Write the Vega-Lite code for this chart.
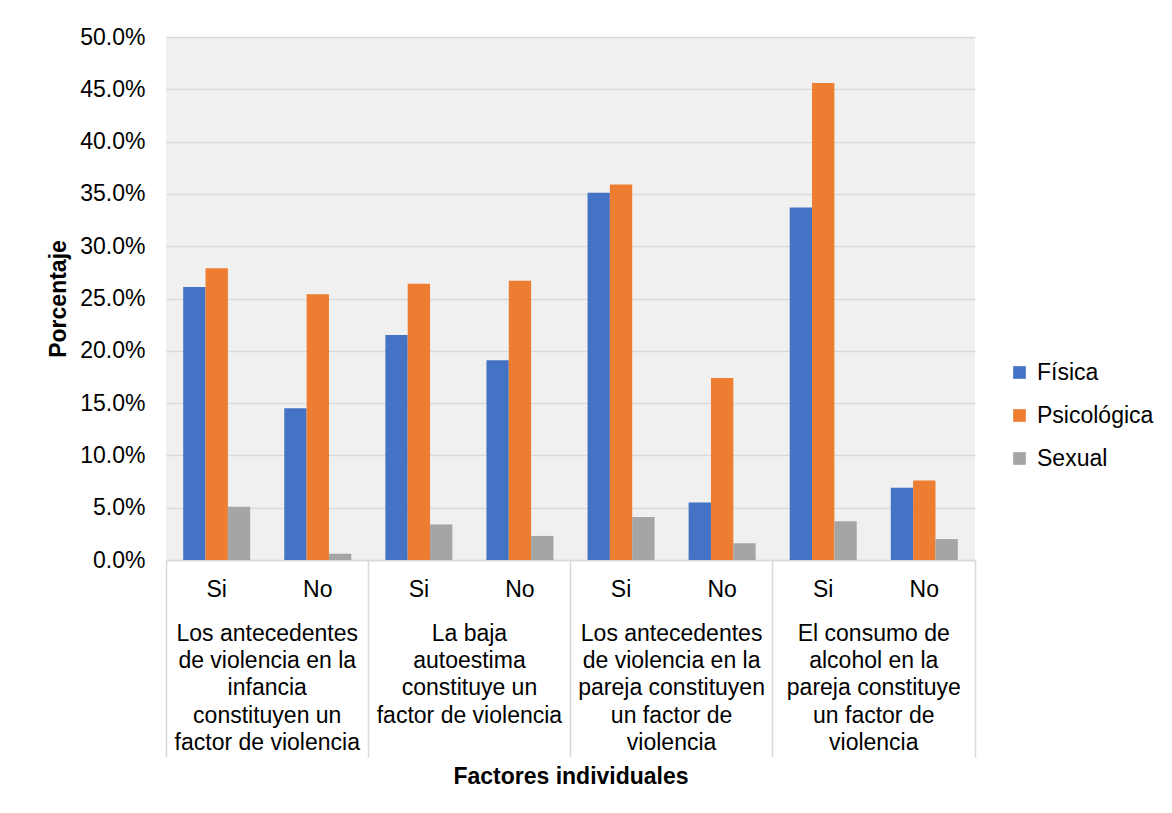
{
  "$schema": "https://vega.github.io/schema/vega-lite/v6.json",
  "width": 809,
  "height": 523,
  "autosize": {"type": "none"},
  "padding": {"left": 166, "top": 37, "right": 197, "bottom": 253},
  "background": "white",
  "config": {
    "font": "Liberation Sans",
    "view": {"stroke": null, "fill": "#f0f0f0"},
    "axis": {"labelColor": "#000000", "titleColor": "#000000", "labelFont": "Liberation Sans", "titleFont": "Liberation Sans"}
  },
  "data": {
    "values": [
      {"cat": "Si|Los antecedentes/de violencia en la/infancia/constituyen un/factor de violencia", "tipo": "Física", "valor": 0.261},
      {"cat": "Si|Los antecedentes/de violencia en la/infancia/constituyen un/factor de violencia", "tipo": "Psicológica", "valor": 0.279},
      {"cat": "Si|Los antecedentes/de violencia en la/infancia/constituyen un/factor de violencia", "tipo": "Sexual", "valor": 0.051},
      {"cat": "No|Los antecedentes/de violencia en la/infancia/constituyen un/factor de violencia", "tipo": "Física", "valor": 0.145},
      {"cat": "No|Los antecedentes/de violencia en la/infancia/constituyen un/factor de violencia", "tipo": "Psicológica", "valor": 0.254},
      {"cat": "No|Los antecedentes/de violencia en la/infancia/constituyen un/factor de violencia", "tipo": "Sexual", "valor": 0.006},
      {"cat": "Si|La baja/autoestima/constituye un/factor de violencia", "tipo": "Física", "valor": 0.215},
      {"cat": "Si|La baja/autoestima/constituye un/factor de violencia", "tipo": "Psicológica", "valor": 0.264},
      {"cat": "Si|La baja/autoestima/constituye un/factor de violencia", "tipo": "Sexual", "valor": 0.034},
      {"cat": "No|La baja/autoestima/constituye un/factor de violencia", "tipo": "Física", "valor": 0.191},
      {"cat": "No|La baja/autoestima/constituye un/factor de violencia", "tipo": "Psicológica", "valor": 0.267},
      {"cat": "No|La baja/autoestima/constituye un/factor de violencia", "tipo": "Sexual", "valor": 0.023},
      {"cat": "Si|Los antecedentes/de violencia en la/pareja constituyen/un factor de/violencia", "tipo": "Física", "valor": 0.351},
      {"cat": "Si|Los antecedentes/de violencia en la/pareja constituyen/un factor de/violencia", "tipo": "Psicológica", "valor": 0.359},
      {"cat": "Si|Los antecedentes/de violencia en la/pareja constituyen/un factor de/violencia", "tipo": "Sexual", "valor": 0.041},
      {"cat": "No|Los antecedentes/de violencia en la/pareja constituyen/un factor de/violencia", "tipo": "Física", "valor": 0.055},
      {"cat": "No|Los antecedentes/de violencia en la/pareja constituyen/un factor de/violencia", "tipo": "Psicológica", "valor": 0.174},
      {"cat": "No|Los antecedentes/de violencia en la/pareja constituyen/un factor de/violencia", "tipo": "Sexual", "valor": 0.016},
      {"cat": "Si|El consumo de/alcohol en la/pareja constituye/un factor de/violencia", "tipo": "Física", "valor": 0.337},
      {"cat": "Si|El consumo de/alcohol en la/pareja constituye/un factor de/violencia", "tipo": "Psicológica", "valor": 0.456},
      {"cat": "Si|El consumo de/alcohol en la/pareja constituye/un factor de/violencia", "tipo": "Sexual", "valor": 0.037},
      {"cat": "No|El consumo de/alcohol en la/pareja constituye/un factor de/violencia", "tipo": "Física", "valor": 0.069},
      {"cat": "No|El consumo de/alcohol en la/pareja constituye/un factor de/violencia", "tipo": "Psicológica", "valor": 0.076},
      {"cat": "No|El consumo de/alcohol en la/pareja constituye/un factor de/violencia", "tipo": "Sexual", "valor": 0.020}
    ]
  },
  "layer": [
    {
      "mark": {"type": "bar"},
      "encoding": {
        "x": {
          "field": "cat", "type": "nominal", "sort": null,
          "scale": {"paddingInner": 0.337, "paddingOuter": 0.17},
          "axis": {
            "orient": "bottom", "title": null, "labelExpr": "split(datum.value, '|')[0]",
            "ticks": false, "domain": true, "domainColor": "#d9d9d9", "domainWidth": 1.5,
            "labelFontSize": 23, "labelPadding": 18, "labelAngle": 0, "grid": false, "labelOverlap": false
          }
        },
        "xOffset": {"field": "tipo", "type": "nominal", "sort": ["Física", "Psicológica", "Sexual"], "scale": {"paddingInner": 0, "paddingOuter": 0}},
        "y": {
          "field": "valor", "type": "quantitative",
          "scale": {"domain": [0, 0.5], "nice": false},
          "axis": {
            "values": [0, 0.05, 0.1, 0.15, 0.2, 0.25, 0.3, 0.35, 0.4, 0.45, 0.5],
            "format": ".1%", "title": "Porcentaje", "titleFontSize": 23, "titleFontWeight": "bold", "titlePadding": 9,
            "domain": false, "ticks": false, "labelFontSize": 23, "labelPadding": 21,
            "gridColor": "#d9d9d9", "gridWidth": 1.5
          }
        },
        "color": {
          "field": "tipo", "type": "nominal",
          "scale": {"domain": ["Física", "Psicológica", "Sexual"], "range": ["#4472C4", "#ED7D31", "#A5A5A5"]},
          "legend": {
            "title": null, "orient": "none", "legendX": 842, "legendY": 324,
            "symbolType": "square", "symbolSize": 160, "symbolStrokeWidth": 0, "symbolOpacity": 1,
            "labelFontSize": 23, "labelFont": "Liberation Sans", "labelColor": "#000000", "rowPadding": 19, "labelOffset": 6, "padding": 0
          }
        }
      }
    },
    {
      "mark": {"type": "rule", "opacity": 0},
      "encoding": {
        "x": {
          "field": "cat", "type": "nominal", "sort": null,
          "axis": {
            "orient": "bottom",
            "values": [
              "Si|Los antecedentes/de violencia en la/infancia/constituyen un/factor de violencia",
              "Si|La baja/autoestima/constituye un/factor de violencia",
              "Si|Los antecedentes/de violencia en la/pareja constituyen/un factor de/violencia",
              "Si|El consumo de/alcohol en la/pareja constituye/un factor de/violencia"
            ],
            "bandPosition": -0.2541, "labelOffset": 50.55,
            "labelExpr": "split(split(datum.value, '|')[1], '/')",
            "tickSize": 197, "tickColor": "#d9d9d9", "tickWidth": 1.5, "domain": false, "grid": false,
            "labelPadding": -135, "labelLineHeight": 27.4, "labelFontSize": 23, "labelAngle": 0,
            "labelLimit": 0, "labelOverlap": false, "labelFlush": false,
            "title": "Factores individuales", "titleFontSize": 23, "titleFontWeight": "bold", "titlePadding": 8
          }
        }
      }
    },
    {
      "mark": {"type": "rule", "opacity": 0},
      "encoding": {
        "x": {
          "field": "cat", "type": "nominal", "sort": null,
          "axis": {
            "orient": "bottom",
            "values": ["No|El consumo de/alcohol en la/pareja constituye/un factor de/violencia"],
            "bandPosition": 1.2565, "labels": false, "title": null,
            "tickSize": 197, "tickColor": "#d9d9d9", "tickWidth": 1.5, "domain": false, "grid": false
          }
        }
      }
    }
  ],
  "resolve": {"axis": {"x": "independent"}}
}
